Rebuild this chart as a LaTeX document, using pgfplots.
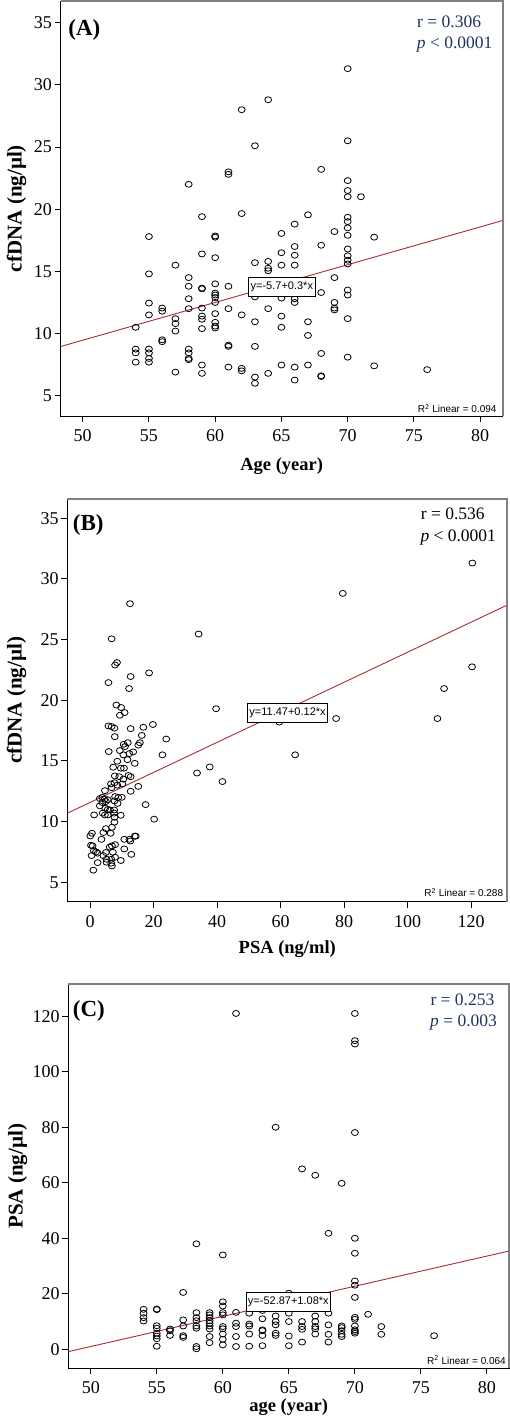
\documentclass[border=0pt]{standalone}
\usepackage{fontspec}
\setmainfont{Liberation Serif}
\newfontfamily\arial{Liberation Sans}
\usepackage{pgfplots}
\pgfplotsset{compat=1.18}
\usepackage{pgfplotstable}
\definecolor{navy}{RGB}{31,50,100}
\definecolor{regred}{RGB}{165,45,50}
\definecolor{framegray}{RGB}{128,128,128}

\pgfplotstableread{
x y
70 31.3
64 28.8
62 28.0
63 25.1
70 25.5
68 23.2
61 23.0
61 22.8
58 22.0
70 22.3
70 21.5
70 21.0
71 21.0
59 19.4
62 19.65
67 19.55
66 18.8
70 19.35
70 19.0
70 18.5
70 17.9
69 18.2
65 18.05
55 17.8
60 17.85
60 17.75
72 17.75
66 17.0
68 17.1
70 16.8
59 16.4
60 16.1
65 16.5
66 16.3
70 16.25
70 15.9
70 15.6
57 15.5
63 15.7
64 15.8
64 15.25
64 15.05
65 15.5
66 15.5
55 14.8
58 14.5
69 14.5
60 14.0
61 13.8
58 13.8
59 13.65
59 13.6
60 13.25
60 13.1
60 12.9
70 13.5
70 13.1
68 13.3
63 12.95
65 12.85
66 12.8
66 12.5
58 12.8
69 12.5
69 12.05
69 11.9
60 12.5
55 12.45
56 12.05
56 11.8
58 12.0
61 12.0
64 12.0
59 12.05
59 11.4
59 11.15
57 11.2
57 10.8
55 11.5
62 11.5
60 11.6
65 11.4
70 11.2
63 10.95
67 10.95
60 10.9
60 10.6
60 10.45
57 10.2
59 10.4
54 10.5
65 10.5
67 9.85
56 9.5
56 9.35
61 9.07
61 8.97
63 8.97
54 8.75
54 8.45
55 8.75
55 8.45
58 8.75
58 8.45
58 8.0
58 7.9
55 8.0
55 7.7
54 7.7
68 8.4
70 8.1
59 7.47
61 7.3
62 7.2
62 7.0
65 7.47
66 7.3
67 7.47
72 7.4
76 7.1
57 6.9
59 6.8
64 6.8
68 6.6
68 6.55
63 6.5
63 6.0
66 6.26
}\dataA

\pgfplotstableread{
x y
120.4 31.3
79.6 28.8
12.6 27.95
6.8 25.06
34.2 25.45
8.5 23.1
7.9 22.9
18.6 22.25
12.8 21.95
5.8 21.45
12.3 20.96
120.3 22.75
111.5 20.96
8.3 19.6
9.8 19.4
39.7 19.3
10.9 18.98
9.4 18.76
77.5 18.49
109.4 18.49
59.6 18.2
5.8 17.88
6.8 17.83
7.7 17.7
12.8 17.66
16.8 17.77
19.8 18.0
7.8 17.0
16.3 17.1
24.0 16.8
11.0 16.18
11.9 16.5
10.6 16.37
15.7 16.5
15.2 16.3
13.6 15.74
5.9 15.77
9.4 15.85
22.8 15.5
64.6 15.5
10.5 15.5
12.4 15.6
11.8 15.1
8.6 14.97
14.1 14.8
33.7 14.0
37.7 14.5
41.7 13.3
7.3 14.48
9.7 14.4
10.7 14.4
7.8 13.76
9.2 13.7
12.1 13.8
12.8 13.7
10.5 13.5
6.6 13.1
7.7 13.2
8.6 13.0
10.2 13.1
15.2 12.9
4.7 12.55
12.8 12.5
6.8 12.8
3.1 11.9
3.9 12.0
4.6 11.85
7.9 12.06
8.9 11.98
10.0 12.0
5.6 11.8
5.0 11.65
3.9 11.57
3.1 11.3
8.7 11.5
7.7 11.7
17.5 11.4
4.8 11.1
5.6 11.0
6.3 10.96
7.6 10.96
7.6 10.7
4.0 10.7
4.7 10.55
5.6 10.55
1.3 10.55
9.7 10.52
7.7 10.36
20.2 10.2
7.7 9.95
6.9 9.53
5.0 9.42
4.2 9.1
6.5 9.04
0.6 9.04
0.1 8.82
3.6 8.54
10.8 8.54
12.7 8.4
12.4 8.54
14.1 8.8
14.4 8.8
0.3 8.05
0.8 8.0
6.2 7.9
6.9 8.0
7.9 8.1
10.8 7.75
1.2 7.6
1.9 7.5
2.4 7.4
0.5 7.2
5.0 7.45
4.2 7.2
7.2 7.47
13.0 7.3
7.9 7.06
5.2 6.9
6.7 6.9
6.7 6.57
6.9 6.35
9.7 6.8
2.4 6.62
5.2 6.65
1.05 6.0
}\dataB

\pgfplotstableread{
x y
61 121
70 121
70 111.2
70 110
64 80
70 78.1
66 65
67 62.7
69 59.8
68 41.8
70 40
70 34.6
58 38
60 34
57 20.5
70 24.6
70 23.1
70 18.7
65 20.2
60 17.1
60 15.6
60 13.2
60 12.4
61 13.3
62 13
63 14
64 12
65 13
67 12
68 13
71 12.6
54 14.4
54 13
54 11.4
54 10.2
55 14.5
55 14.3
58 13.2
58 11.4
58 10.3
58 8.4
58 7.6
59 13.2
59 12.4
59 11.4
59 10.3
59 9.4
59 8.4
59 7.3
59 4.6
59 2.4
57 10.6
57 8.4
62 9.1
62 8.4
62 5.5
62 1.1
61 9.4
61 8.2
61 4.6
61 1.0
63 11.0
63 7.0
63 6.7
63 5.0
63 1.3
64 10
64 8.8
64 5.8
64 5.0
65 10
65 4.8
65 1.3
66 10
66 8.2
66 7.2
66 2.6
67 10
67 8.2
67 7.4
67 5.5
68 8.8
68 5.4
68 2.6
69 8.4
69 7.8
69 6.7
69 5.4
69 4.6
70 11.5
70 10.8
70 8.4
70 7.0
70 6.4
70 5.8
55 8.5
55 7.6
55 5.8
55 4.8
55 3.8
55 1.1
56 7.3
56 6.7
56 5.0
57 4.9
57 4.3
58 1.0
58 0.2
60 8.2
60 7.4
60 5.5
60 3.6
60 1.6
72 8.2
72 5.4
76 4.9
}\dataC

\pgfplotsset{
  panel/.style={
    scale only axis,
    clip mode=individual,
    axis line style={black, line width=0.9bp},
    tick align=outside,
    xtick pos=left, ytick pos=left,
    major tick length=6bp,
    every tick/.style={black, line width=0.9bp},
    tick label style={font=\fontsize{18bp}{21bp}\selectfont},
    /pgf/number format/assume math mode=true,
    xticklabel style={yshift=-4bp},
    yticklabel style={inner xsep=2.5bp},
    x label style={font=\fontsize{18.5bp}{21bp}\selectfont\bfseries},
    y label style={font=\fontsize{21bp}{24bp}\selectfont\bfseries},
  },
  pts/.style={only marks, mark=o, mark size=3bp,
    mark options={black, line width=0.8bp, xscale=1.15}},
  reg/.style={regred, line width=0.9bp, no marks},
}
\tikzset{
  eqbox/.style={draw=black, line width=0.8bp, fill=white, inner xsep=2bp,
    inner ysep=0pt, minimum height=19bp,
    font=\arial\fontsize{11bp}{12bp}\selectfont},
  rsq/.style={anchor=base east, inner sep=0pt,
    font=\arial\fontsize{10bp}{12bp}\selectfont},
  stat/.style={anchor=base west, inner sep=0pt,
    font=\fontsize{17.5bp}{20bp}\selectfont},
  lett/.style={anchor=base west, inner sep=0pt,
    font=\fontsize{23bp}{26bp}\selectfont\bfseries},
}

\begin{document}
\begin{tikzpicture}
% ---------------- Panel A ----------------
\begin{axis}[panel,
  at={(60.7bp,-416bp)}, anchor=south west,
  width=442bp, height=415bp,
  xmin=48.34, xmax=81.7, ymin=3.37, ymax=36.74,
  xtick={50,55,...,80}, ytick={5,10,...,35},
  xlabel={Age (year)}, ylabel={cfDNA (ng/µl)},
  xlabel style={at={(axis description cs:0.5,-0.1325)}, anchor=base},
  ylabel style={at={(axis description cs:-0.0882,0.5)}, anchor=base},
]
\addplot[reg] coordinates {(48.34,8.96) (81.7,19.09)};
\addplot[pts] table[x=x,y=y] {\dataA};
\node[eqbox] at (axis cs:65.03,13.79) {y=-5.7+0.3*x};
\node[rsq] at ([xshift=-6bp,yshift=3.3bp]rel axis cs:1,0) {R\textsuperscript{2} Linear = 0.094};
\node[lett] at ([xshift=7.5bp,yshift=-34bp]rel axis cs:0,1) {(A)};
\node[stat, text=navy] at ([xshift=-85.7bp,yshift=-26bp]rel axis cs:1,1) {r = 0.306};
\node[stat, text=navy] at ([xshift=-86bp,yshift=-47.3bp]rel axis cs:1,1) {\textit{p} < 0.0001};
\draw[framegray, line width=1.7bp] (rel axis cs:0,1) -- (rel axis cs:1,1) -- (rel axis cs:1,0);
\end{axis}
% ---------------- Panel B ----------------
\begin{axis}[panel,
  at={(67.3bp,-901.7bp)}, anchor=south west,
  width=440bp, height=403bp,
  xmin=-7.15, xmax=131.4, ymin=3.4, ymax=36.6,
  xtick={0,20,...,120}, ytick={5,10,...,35},
  xlabel={PSA (ng/ml)}, ylabel={cfDNA (ng/µl)},
  xlabel style={at={(axis description cs:0.5,-0.129)}, anchor=base},
  ylabel style={at={(axis description cs:-0.1036,0.5)}, anchor=base},
]
\addplot[reg] coordinates {(-7.15,10.69) (131.4,27.84)};
\addplot[pts] table[x=x,y=y] {\dataB};
\node[eqbox] at (axis cs:62.2,18.98) {y=11.47+0.12*x};
\node[rsq] at ([xshift=-4bp,yshift=5bp]rel axis cs:1,0) {R\textsuperscript{2} Linear = 0.288};
\node[lett] at ([xshift=5.4bp,yshift=-31.3bp]rel axis cs:0,1) {(B)};
\node[stat] at ([xshift=-86.6bp,yshift=-20.3bp]rel axis cs:1,1) {r = 0.536};
\node[stat] at ([xshift=-87bp,yshift=-42.3bp]rel axis cs:1,1) {\textit{p} < 0.0001};
\draw[framegray, line width=1.7bp] (rel axis cs:0,1) -- (rel axis cs:1,1) -- (rel axis cs:1,0);
\end{axis}
% ---------------- Panel C ----------------
\begin{axis}[panel,
  at={(68.3bp,-1368.3bp)}, anchor=south west,
  width=440.7bp, height=384.3bp,
  xmin=48.3, xmax=81.67, ymin=-6.85, ymax=131.6,
  xtick={50,55,...,80}, ytick={0,20,...,120},
  xlabel={age (year)}, ylabel={PSA (ng/µl)},
  xlabel style={at={(axis description cs:0.5,-0.112)}, anchor=base},
  ylabel style={at={(axis description cs:-0.1035,0.5)}, anchor=base},
]
\addplot[reg] coordinates {(48.3,-0.84) (81.67,35.4)};
\addplot[pts] table[x=x,y=y] {\dataC};
\node[eqbox] at (axis cs:64.96,17.15) {y=-52.87+1.08*x};
\node[rsq] at ([xshift=-3bp,yshift=4bp]rel axis cs:1,0) {R\textsuperscript{2} Linear = 0.064};
\node[lett] at ([xshift=4.4bp,yshift=-32.7bp]rel axis cs:0,1) {(C)};
\node[stat, text=navy] at ([xshift=-78.7bp,yshift=-21bp]rel axis cs:1,1) {r = 0.253};
\node[stat, text=navy] at ([xshift=-79bp,yshift=-42bp]rel axis cs:1,1) {\textit{p} = 0.003};
\draw[framegray, line width=1.7bp] (rel axis cs:0,1) -- (rel axis cs:1,1) -- (rel axis cs:1,0);
\end{axis}
\pgfresetboundingbox
\path[use as bounding box] (0,0) rectangle (510bp,-1421bp);
\end{tikzpicture}
\end{document}
